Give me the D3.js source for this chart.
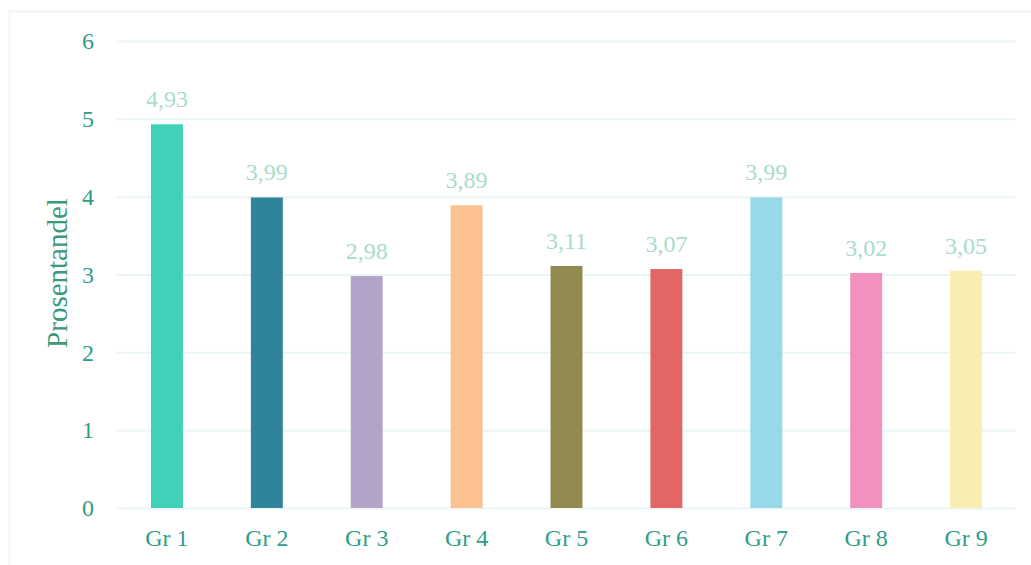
<!DOCTYPE html>
<html><head><meta charset="utf-8">
<script src="https://cdn.jsdelivr.net/npm/d3@7"></script>
<style>body{margin:0;background:#fff}</style>
</head><body>
<svg id="c" width="1031" height="565"></svg>
<script>
const categories = ["Gr 1","Gr 2","Gr 3","Gr 4","Gr 5","Gr 6","Gr 7","Gr 8","Gr 9"];
const values = [4.93,3.99,2.98,3.89,3.11,3.07,3.99,3.02,3.05];
const colors = ["#40d1b9","#2f849b","#b4a3c8","#fbc18f","#938a52","#e26666","#97d9e9","#f291bf","#f9edb1"];
const yTicks = [0,1,2,3,4,5,6];
const yTitle = "Prosentandel";

const svg = d3.select("#c");
const font = "'Liberation Serif', serif";
const m = {l:117, r:1016, t:41, b:508};

svg.append("rect").attr("x",9.5).attr("y",11.5).attr("width",1040).attr("height",600)
  .attr("fill","none").attr("stroke","#eef7f5").attr("stroke-width",2);

const x = d3.scaleBand().domain(categories).range([m.l,m.r]).paddingInner(0.68).paddingOuter(0.34);
const y = d3.scaleLinear().domain([0,6]).range([m.b,m.t]);

const gy = svg.append("g").attr("transform",`translate(${m.l},0)`)
  .call(d3.axisLeft(y).tickValues(yTicks).tickSize(-(m.r-m.l)).tickPadding(23).tickFormat(d3.format("d")));
gy.select(".domain").remove();
gy.selectAll(".tick line").attr("stroke","#eaf6f3").attr("stroke-width",2);
gy.selectAll(".tick text").attr("fill","#2f9d89").attr("font-family",font).attr("font-size",24);

svg.selectAll("rect.bar").data(values).enter().append("rect").attr("class","bar")
  .attr("x",(d,i)=>x(categories[i])).attr("width",x.bandwidth())
  .attr("y",d=>y(d)).attr("height",d=>y(0)-y(d))
  .attr("fill",(d,i)=>colors[i]);

svg.selectAll("text.val").data(values).enter().append("text").attr("class","val")
  .attr("x",(d,i)=>x(categories[i])+x.bandwidth()/2).attr("y",d=>y(d)-17)
  .attr("text-anchor","middle").attr("fill","#a9dcc9").attr("font-family",font).attr("font-size",24)
  .text(d=>d.toFixed(2).replace(".",","));

const gx = svg.append("g").attr("transform",`translate(0,${m.b})`)
  .call(d3.axisBottom(x).tickSize(0).tickPadding(21));
gx.select(".domain").remove();
gx.selectAll(".tick text").attr("fill","#2f9d89").attr("font-family",font).attr("font-size",24);

svg.append("text").attr("transform","translate(67,273) rotate(-90)")
  .attr("text-anchor","middle").attr("fill","#3a9a77").attr("font-family",font).attr("font-size",29)
  .text(yTitle);
</script>
</body></html>
